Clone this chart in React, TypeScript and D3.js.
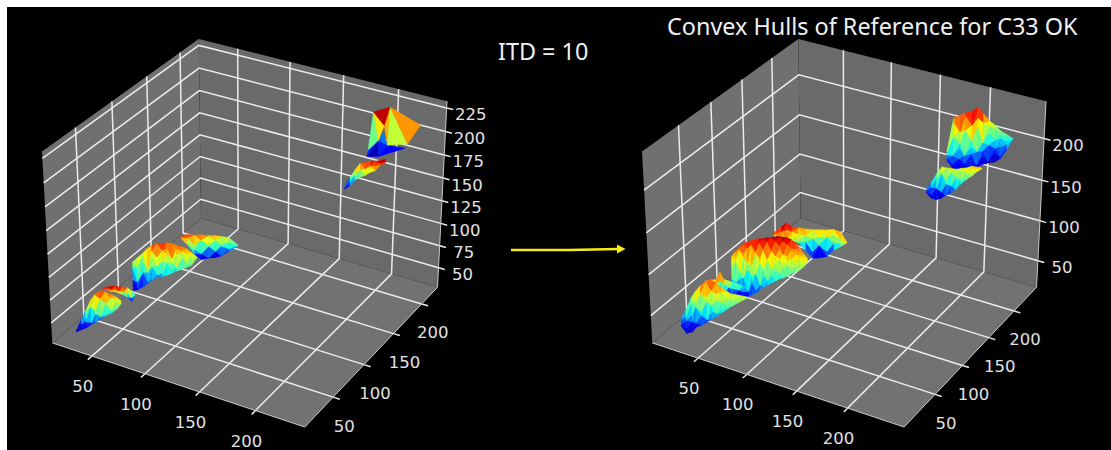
import React, { useEffect, useRef } from 'react';
import * as d3 from 'd3';

// axis limits and ticks
const leftXLim = [12, 243];
const leftYLim = [6, 229];
const leftZLim = [27.5, 232];
const rightXLim = [2, 254];
const rightYLim = [-4, 246];
const rightZLim = [16, 244];
const xyTicks = [50, 100, 150, 200];
const leftZTicks = [50, 75, 100, 125, 150, 175, 200, 225];
const rightZTicks = [50, 100, 150, 200];

// left panel hulls: stations along the ridge, z rows from bottom to top
const l1X = [23, 26, 29, 32, 35, 38, 41, 45, 48, 51];
const l1Y = [24, 27, 29, 32, 34, 37, 40, 42, 45, 47];
const l1Rows = [
  [32, 33.5, 35, 38, 40.6, 43, 46, 48.7, 52.4, 58],
  [32.5, 36, 42, 40, 50, 46, 58, 52, 60, 59],
  [33, 40, 46, 58, 54, 66, 60, 66, 64, 60],
  [33, 44, 53.5, 65, 71, 74.5, 73, 70, 66, 61.6],
];
const l1Domain = [32, 80];
const l2X = [29, 32, 35, 37, 40, 43, 46, 49, 51];
const l2Y = [54, 56, 57, 59, 60, 62, 64, 65, 67];
const l2Rows = [
  [62, 61, 58.8, 58.8, 57.7, 55.5, 52.3, 48, 53.4],
  [62.5, 62.5, 62, 61, 60, 59, 57, 52, 54],
  [63, 64, 65, 65, 64.7, 64, 63, 60, 55.5],
];
const l3X = [35, 38, 42, 45, 48, 51, 55, 58, 61, 64, 68, 71, 74, 77];
const l3Y = [88, 90, 93, 95, 97, 100, 102, 104, 107, 109, 112, 114, 116, 119];
const l3Rows = [
  [40, 41, 44, 48, 51, 54, 54.6, 55.5, 57.3, 59.2, 61, 63, 64.8, 72],
  [52, 43, 60, 49, 66, 56, 58, 70, 60, 63, 74, 66, 67, 72.3],
  [66, 50, 72, 60, 78, 66, 72, 80, 68, 78, 80, 70, 74, 72.5],
  [70, 66, 80, 64, 84, 76, 84, 86, 74, 84, 82, 78, 76, 72.8],
  [72.3, 76.4, 81.5, 86.6, 89.5, 91.5, 91, 92, 90.6, 88.2, 85.8, 83.4, 78.8, 73.2],
];
const l3Domain = [39, 98];
const l4X = [40, 44, 49, 53, 58, 62, 66, 71, 77];
const l4Y = [153, 157, 160, 164, 168, 172, 175, 179, 184];
const l4Rows = [
  [61, 51.6, 41, 33, 34.3, 33.5, 35, 39.6, 44.8],
  [61.2, 54, 46, 40, 48, 41, 46, 43, 45.2],
  [61.5, 60, 52, 56, 50, 54, 48, 50, 45.6],
  [62, 63.4, 62.7, 62, 60, 59.3, 57.5, 55.7, 46],
];
const l4Domain = [33, 68];
// this one has few big facets, so its vertices and faces are listed
const l5X = [195, 204, 210, 232, 225, 207, 192, 198, 191, 199, 192, 213];
const l5Y = [196, 207, 186, 206, 198, 199, 212, 183, 195, 200, 220, 219];
const l5Z = [224, 226, 220, 216, 198.5, 191, 184, 192, 176, 176, 188.5, 178.5];
const l5Faces = [
  [6, 7, 8], [6, 9, 8], [6, 5, 9], [5, 11, 9], [10, 5, 6], [0, 6, 7], [0, 2, 6],
  [1, 2, 5], [1, 4, 5], [1, 3, 4], [0, 1, 2],
];
const l6X = [179, 182.5, 186, 189.4, 193, 196.3, 200, 203, 207];
const l6Y = [181, 183, 185, 187, 189, 191, 193, 195, 197];
const l6Rows = [
  [145, 149, 155, 158, 160, 163, 165, 170, 174],
  [146, 153, 160, 166, 167, 170, 170, 173, 175],
  [147, 158, 166.5, 173, 174, 175, 175, 176, 177],
];

// right panel hulls
const r1X = [29, 33, 37, 40, 44, 48, 52, 56, 59, 63, 67, 71, 75, 78];
const r1Y = [3, 5, 8, 10, 12, 15, 17, 19, 22, 24, 26, 29, 31, 33];
const r1Rows = [
  [42.4, 34, 35.2, 41.2, 43.6, 47.2, 50.8, 54.4, 58, 62.8, 66.4, 70, 73.6, 76],
  [44, 40, 48, 46, 56, 50, 60, 58, 62, 66, 68, 71, 74, 76.2],
  [46, 50, 56, 66, 60, 72, 68, 74, 70, 72, 74, 72, 75, 76.4],
  [50, 54, 70, 72, 82, 78, 86, 82, 84, 76, 80, 77, 77, 76.6],
  [52, 63, 77, 84.4, 91.6, 96.4, 99, 95, 89, 84.4, 81, 79.6, 78.4, 76.8],
];
const r1Domain = [34, 108];
const r2X = [35, 39, 43, 46, 49, 52, 55, 59, 63, 67];
const r2Y = [33, 35, 38, 40, 42, 44, 46, 49, 51, 53];
const r2Rows = [
  [78, 75.6, 72, 69.6, 66, 62.4, 60, 62.4, 60, 62.4],
  [79, 80, 78, 80, 76, 72, 70, 68, 66, 67],
  [80.4, 82, 82, 91, 82, 80, 78, 75.6, 73, 72],
];
const r3X = [47, 50, 53, 56, 59, 62, 65, 68, 71, 74, 77, 80, 83, 86, 89, 92, 95, 98, 101, 104];
const r3Y = [57, 59, 61, 62, 64, 66, 68, 70, 71, 73, 75, 77, 79, 80, 82, 84, 86, 88, 89, 91];
const r3Rows = [
  [61, 56, 52.4, 51, 50, 52.4, 54.8, 58.4, 62, 64.4, 66.8, 69.2, 71.6, 72.8, 75.2, 77.6, 80, 82.4, 86, 92],
  [66, 58, 54, 62, 54, 68, 58, 64, 76, 70, 76, 82, 78, 84, 88, 84, 86, 90, 88, 92.5],
  [72, 68, 72, 74, 84, 76, 78, 92, 84, 94, 84, 92, 96, 88, 94, 96, 92, 96, 93, 93.2],
  [86, 94, 80, 100, 92, 88, 104, 98, 108, 96, 106, 100, 108, 102, 100, 108, 102, 100, 97, 94],
  [96, 100, 108, 104, 110, 114, 106, 116, 110, 118, 108, 118, 112, 118, 114, 110, 108, 104, 100, 95.5],
  [99, 105, 110, 115, 117, 118.4, 119.6, 121, 121, 122, 122, 123, 123, 123, 122, 119.6, 115, 109, 103, 97],
];
const r3Domain = [40, 126];
const r4X = [72, 78, 80, 84, 87, 91, 96, 101, 107, 112, 122, 130];
const r4Y = [88, 91, 96, 98, 104, 110, 113, 116, 119, 123, 118, 115];
const r4Rows = [
  [116, 113.6, 108.8, 106.4, 101.6, 89.6, 80, 80, 82.4, 89.6, 100.4, 110],
  [116.5, 116, 110, 112, 104, 100, 88, 96, 88, 98, 104, 110.2],
  [117, 120, 120, 118, 112, 108, 104, 106, 106, 108, 110, 110.4],
  [118.4, 125.6, 128, 123.2, 119.6, 116, 114.8, 114.8, 114.8, 114.8, 118.4, 110.6],
];
const r5X = [185, 189, 194, 198, 203, 207, 208, 209, 214, 218, 223, 228];
const r5Y = [195, 198, 201, 203, 206, 209, 218, 228, 231, 233, 236, 236];
const r5Rows = [
  [179.6, 171.2, 170, 170, 170, 171.2, 170, 166.4, 167.6, 171.2, 182, 196],
  [183, 176, 182, 176, 188, 174, 180, 168, 178, 174, 185, 196.3],
  [187, 186, 194, 186, 196, 190, 186, 188, 184, 186, 189, 196.6],
  [190, 208, 200, 216, 204, 220, 196, 202, 194, 196, 193, 197],
  [191, 224, 214, 232, 222, 230, 220, 210, 206, 200, 197, 197.2],
  [191.6, 230, 233.6, 236, 238.4, 242, 230, 216.8, 210.8, 204.8, 200, 197.5],
];
const r6X = [166, 170, 174, 178, 182, 186, 190, 194, 198, 203, 207, 211];
const r6Y = [194, 195, 197, 199, 200, 202, 203, 205, 207, 208, 210, 211];
const r6Rows = [
  [135.2, 129.8, 128, 129.8, 134, 137, 142.4, 149, 154.4, 159.8, 165.2, 169.4],
  [137, 134, 142, 138, 148, 146, 156, 154, 162, 162, 167, 169.8],
  [139, 143, 154, 160, 154, 162, 158, 166, 164, 169, 169, 170.2],
  [140, 149, 159.2, 168.2, 167.6, 167, 166.4, 168.2, 168.8, 171.8, 171.2, 170.6],
];
const r6Domain = [128, 190];

// matplotlib jet
const jetR = d3.scaleLinear().domain([0, 0.35, 0.66, 0.89, 1]).range([0, 0, 1, 1, 0.5]);
const jetG = d3.scaleLinear().domain([0, 0.125, 0.375, 0.64, 0.91, 1]).range([0, 0, 1, 1, 0, 0]);
const jetB = d3.scaleLinear().domain([0, 0.11, 0.34, 0.65, 1]).range([0.5, 1, 1, 0, 0]);
const jet = (t: number) =>
  d3.rgb(jetR(t) * 255, jetG(t) * 255, jetB(t) * 255).formatHex();

// same view as a default mplot3d axes: elev 30, azim -60
const cameraDist = 7.5;
const project3d = (X: number, Y: number, Z: number) => {
  const rx = 0.866 * X + 0.5 * Y;
  const ry = -0.25 * X + 0.433 * Y + 0.866 * Z;
  const depth = 0.433 * X - 0.75 * Y + 0.5 * Z;
  const f = 1 / (1 - depth / cameraDist);
  return [rx * f, ry * f];
};

// turn a hull (rows of z over stations) into vertices and faces
const gridHull = (xs: number[], ys: number[], rows: number[][], domain?: number[]) => {
  const pts: number[][] = [];
  rows.forEach(r => r.forEach((z, i) => pts.push([xs[i], ys[i], z])));
  const n = xs.length;
  const faces: number[][] = [];
  for (let r = 0; r < rows.length - 1; r++) {
    for (let i = 0; i < n - 1; i++) {
      const a = r * n + i;
      const b = a + 1;
      const c = a + n;
      const d = c + 1;
      // mixed diagonals, a regular pattern reads as chevrons
      if ((i * 3 + r * 5) % 7 < 3) {
        faces.push([a, b, c], [b, d, c]);
      } else {
        faces.push([a, b, d], [a, d, c]);
      }
    }
  }
  return { pts, faces, domain };
};

const listHull = (xs: number[], ys: number[], zs: number[], faces: number[][]) => ({
  pts: xs.map((x, i) => [x, ys[i], zs[i]]),
  faces,
  domain: undefined as number[] | undefined,
});

const drawPanel = (svg: any, box: number[], lims: number[][], zTicks: number[], hulls: any[]) => {
  const [xLim, yLim, zLim] = lims;
  const ux = d3.scaleLinear().domain(xLim).range([-0.5, 0.5]);
  const uy = d3.scaleLinear().domain(yLim).range([-0.5, 0.5]);
  const uz = d3.scaleLinear().domain(zLim).range([-0.375, 0.375]);
  const raw = (x: number, y: number, z: number) => project3d(ux(x), uy(y), uz(z));

  const [left, right, bottom, top] = box;
  const sx = d3.scaleLinear()
    .domain([raw(xLim[0], yLim[0], zLim[1])[0], raw(xLim[1], yLim[1], zLim[1])[0]])
    .range([left, right]);
  const sy = d3.scaleLinear()
    .domain([raw(xLim[1], yLim[0], zLim[0])[1], raw(xLim[0], yLim[1], zLim[1])[1]])
    .range([bottom, top]);
  const P = (x: number, y: number, z: number): [number, number] => {
    const p = raw(x, y, z);
    return [sx(p[0]), sy(p[1])];
  };
  const line = d3.line();
  const [x0, x1] = xLim;
  const [y0, y1] = yLim;
  const [z0, z1] = zLim;

  const g = svg.append('g').attr('filter', 'url(#soft)');

  // panes
  const panes = [
    { c: '#6f6f6f', p: [P(x0, y0, z0), P(x0, y1, z0), P(x0, y1, z1), P(x0, y0, z1)] },
    { c: '#6a6a6a', p: [P(x0, y1, z0), P(x1, y1, z0), P(x1, y1, z1), P(x0, y1, z1)] },
    { c: '#727272', p: [P(x0, y0, z0), P(x1, y0, z0), P(x1, y1, z0), P(x0, y1, z0)] },
  ];
  panes.forEach(d => {
    g.append('path').attr('d', line(d.p) + 'Z').attr('fill', d.c);
  });

  // grid lines bend where the panes meet
  const grid = g.append('g')
    .attr('fill', 'none')
    .attr('stroke', '#ececec')
    .attr('stroke-width', 1.5);
  xyTicks.forEach(t => {
    grid.append('path').attr('d', line([P(t, y0, z0), P(t, y1, z0), P(t, y1, z1)]));
    grid.append('path').attr('d', line([P(x1, t, z0), P(x0, t, z0), P(x0, t, z1)]));
    // tick stubs
    grid.append('path').attr('d', line([P(t, y0, z0), P(t, y0 - (y1 - y0) * 0.025, z0)]));
    grid.append('path').attr('d', line([P(x1, t, z0), P(x1 + (x1 - x0) * 0.025, t, z0)]));
  });
  zTicks.forEach(t => {
    grid.append('path').attr('d', line([P(x0, y0, t), P(x0, y1, t), P(x1, y1, t)]));
    grid.append('path').attr('d', line([P(x1, y1, t), P(x1 + (x1 - x0) * 0.025, y1, t)]));
  });
  grid.append('path')
    .attr('stroke', '#c8c8c8')
    .attr('stroke-width', 1)
    .attr('d', line([P(x0, y0, z0), P(x1, y0, z0), P(x1, y1, z0), P(x1, y1, z1)]));

  // hulls, back to front
  hulls.forEach(h => {
    const zs = h.pts.map((p: number[]) => p[2]);
    const norm = d3.scaleLinear()
      .domain(h.domain || [d3.min(zs), d3.max(zs)])
      .range([0, 1])
      .clamp(true);
    h.faces.forEach((f: number[]) => {
      const col = jet(norm(d3.mean(f, (i: number) => h.pts[i][2]) as number));
      const corners = f.map((i: number) => P(h.pts[i][0], h.pts[i][1], h.pts[i][2]));
      g.append('path')
        .attr('d', line(corners) + 'Z')
        .attr('fill', col)
        .attr('stroke', col)
        .attr('stroke-width', 0.4);
    });
  });

  // tick labels
  const labels = svg.append('g')
    .attr('fill', '#e2e2e2')
    .attr('font-family', '"DejaVu Sans"')
    .attr('font-size', 16.5)
    .attr('text-anchor', 'middle')
    .attr('dominant-baseline', 'central');
  xyTicks.forEach(t => {
    const a = P(t, y0, z0);
    labels.append('text').attr('x', a[0] - 9).attr('y', a[1] + 30.5).text(t);
    const b = P(x1, t, z0);
    labels.append('text').attr('x', b[0] + 11).attr('y', b[1] + 29).text(t);
  });
  zTicks.forEach(t => {
    const c = P(x1, y1, t);
    labels.append('text').attr('x', c[0] + 24).attr('y', c[1] + 7).text(t);
  });
};

const App = () => {
  const ref = useRef<SVGSVGElement>(null);

  useEffect(() => {
    const svg = d3.select(ref.current);
    svg.selectAll('*').remove();

    // picture frame: thin white strip at the top and on the left
    svg.append('rect').attr('width', 1111).attr('height', 450).attr('fill', '#fff');
    svg.append('rect').attr('x', 7).attr('y', 7).attr('width', 1104).attr('height', 443).attr('fill', '#000');

    svg.append('defs').append('filter').attr('id', 'soft')
      .append('feGaussianBlur').attr('stdDeviation', 0.5);

    drawPanel(svg, [42, 447, 427, 39], [leftXLim, leftYLim, leftZLim], leftZTicks, [
      gridHull(l4X, l4Y, l4Rows, l4Domain),
      gridHull(l3X, l3Y, l3Rows, l3Domain),
      gridHull(l2X, l2Y, l2Rows),
      gridHull(l1X, l1Y, l1Rows, l1Domain),
      listHull(l5X, l5Y, l5Z, l5Faces),
      gridHull(l6X, l6Y, l6Rows),
    ]);
    drawPanel(svg, [642, 1046, 427, 39], [rightXLim, rightYLim, rightZLim], rightZTicks, [
      gridHull(r4X, r4Y, r4Rows),
      gridHull(r3X, r3Y, r3Rows, r3Domain),
      gridHull(r2X, r2Y, r2Rows),
      gridHull(r1X, r1Y, r1Rows, r1Domain),
      gridHull(r5X, r5Y, r5Rows),
      gridHull(r6X, r6Y, r6Rows, r6Domain),
    ]);

    // annotations
    svg.append('text')
      .attr('x', 498).attr('y', 60)
      .attr('fill', '#f0f0f0')
      .attr('font-family', '"Noto Sans"')
      .attr('font-size', 23.4)
      .text('ITD = 10');
    svg.append('text')
      .attr('x', 667).attr('y', 35)
      .attr('fill', '#f0f0f0')
      .attr('font-family', '"Noto Sans"')
      .attr('font-size', 23.4)
      .text('Convex Hulls of Reference for C33 OK');

    svg.append('path')
      .attr('d', d3.line()([[511, 250], [569, 250], [618, 249]]))
      .attr('fill', 'none')
      .attr('stroke', '#f5ee10')
      .attr('stroke-width', 2.6);
    svg.append('path')
      .attr('d', d3.line()([[617, 244.5], [625.5, 249], [617, 253.5]]) + 'Z')
      .attr('fill', '#f5ee10');
  }, []);

  return (
    <svg
      ref={ref}
      width={1111}
      height={450}
      style={{ position: 'absolute', left: 0, top: 0 }}
    />
  );
};

export default App;
